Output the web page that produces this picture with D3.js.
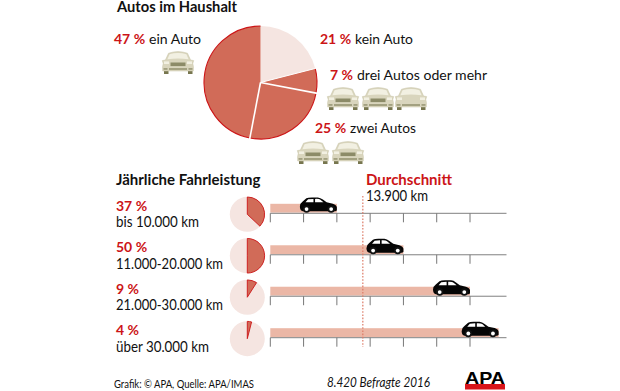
<!DOCTYPE html>
<html><head><meta charset="utf-8">
<style>html,body{margin:0;padding:0;background:#fff}svg{display:block}text{font-family:Lato,"Open Sans",sans-serif}</style>
<script src="https://cdn.jsdelivr.net/npm/d3@7"></script></head>
<body><svg id="c" width="620" height="391"></svg>
<script>
const householdLabels = ["kein Auto","drei Autos oder mehr","zwei Autos","ein Auto"];
const householdValues = [21,7,25,47];
const rangeLabels = ["bis 10.000 km","11.000-20.000 km","21.000-30.000 km","über 30.000 km"];
const rangeShares = [37,50,9,4];
const rangeKm = [10000,20000,30000,34300];
const kmTicks = [0,5000,10000,15000,20000,25000,30000];
const averageKm = 13900;

const svg = d3.select("#c");
const RED="#cc1517", FILL="#d16b58", PALE="#f5e5e1", BAR="#ebb7a6", BEIGE="#d9d5bd", DARKB="#8c8b68";

function txt(x,y,s,size,o={}){
  const t=svg.append("text").attr("x",x).attr("y",y).attr("font-size",size).text(s)
    .attr("fill",o.fill||"#111").attr("font-weight",o.w||400);
  if(o.style) t.attr("font-style",o.style);
  if(o.len) t.attr("textLength",o.len).attr("lengthAdjust","spacingAndGlyphs");
  return t;
}
const pct=(x,y,v)=>txt(x,y,v+" %",14,{fill:RED,w:700});

// main pie
const pie=d3.pie().sort(null).value(d=>d);
const arc=d3.arc().innerRadius(0).outerRadius(56.5);
const main=svg.append("g").attr("transform","translate(260.5,82.5)");
main.selectAll("path").data(pie(householdValues)).join("path")
  .attr("d",arc)
  .attr("fill",(d,i)=>i===0?PALE:FILL);
main.selectAll("path.o").data(pie(householdValues).slice(1)).join("path")
  .attr("class","o").attr("fill","none").attr("stroke",RED).attr("stroke-width",1.1)
  .attr("d",d=>d3.arc().innerRadius(56.5).outerRadius(56.5)(d));
const sep=d3.scaleLinear().domain([0,100]).range([0,2*Math.PI]);
d3.cumsum(householdValues).slice(0,3).forEach((v,i)=>{
  const a=sep(v);
  main.append("line").attr("x1",0).attr("y1",0)
    .attr("x2",Math.sin(a)*58).attr("y2",-Math.cos(a)*58)
    .attr("stroke","#fff").attr("stroke-width",i===0?1:1.6);
});

// front-view car
function frontCar(x,y,round){
  const g=svg.append("g").attr("transform",`translate(${x},${y})`);
  [[2,4.5],[26,4.5]].forEach(w=>g.append("rect").attr("x",w[0]).attr("y",19).attr("width",w[1]).attr("height",4).attr("fill","#77764f"));
  g.append("path").attr("fill",BEIGE).attr("stroke","#c9c5a8").attr("stroke-width",.5)
    .attr("d","M1.2 12.5 L0.3 9.6 L3.4 9 L6.5 2.2 Q16 -1 25.5 2.2 L28.6 9 L31.7 9.6 L30.8 12.5 Q31.8 15 31.3 20 L0.7 20 Q0.2 15 1.2 12.5Z");
  g.append("path").attr("fill","#f2f0e2").attr("d","M7.6 3.2 Q16 0.8 24.4 3.2 L26.6 8.2 Q16 6.8 5.4 8.2Z");
  g.append("rect").attr("x",2).attr("y",10.4).attr("width",5).attr("height",2.6).attr("fill","#f2f0e2");
  g.append("rect").attr("x",25).attr("y",10.4).attr("width",5).attr("height",2.6).attr("fill","#f2f0e2");
  if(!round) g.append("rect").attr("x",8.5).attr("y",11.5).attr("width",15).attr("height",3.6).attr("fill",DARKB);
  g.append("rect").attr("x",7).attr("y",17.3).attr("width",18).attr("height",1.4).attr("fill",DARKB);
  g.append("rect").attr("x",1.5).attr("y",17.3).attr("width",4).attr("height",1.3).attr("fill",DARKB);
  g.append("rect").attr("x",26.5).attr("y",17.3).attr("width",4).attr("height",1.3).attr("fill",DARKB);
}
frontCar(162,51);
frontCar(327,87);frontCar(362,87);frontCar(395,87,true);
frontCar(297,141);frontCar(332,141);

// side-view car: right end sits on the end of the bar
function sideCar(xr,yAxis){
  const g=svg.append("g").attr("transform",`translate(${xr-37},${yAxis-16})`);
  g.append("path").attr("fill","#050505")
    .attr("d","M0 9.5 Q0.2 5.8 2.8 4.2 L6.5 1 Q8 0.2 12 0.1 L18 0.1 Q20.5 0.3 23 2.2 L26.8 5 L33 6.4 Q36.6 7.5 37 10 L37 13 Q36.5 14 35 14 L3 14 Q0.2 13.5 0 9.5Z");
  g.append("path").attr("fill","#fff").attr("d","M8.2 2 L13.6 1.6 L13.6 5 L5.6 5Z M15.2 1.6 Q19.4 1.4 20.6 2.4 L23.6 5 L15.2 5Z");
  [6.7,31.3].forEach(cx=>{
    g.append("circle").attr("cx",cx).attr("cy",11.8).attr("r",3.7).attr("fill","#111");
    g.append("circle").attr("cx",cx).attr("cy",11.8).attr("r",1.9).attr("fill","#fff");
  });
}

// lower chart
const x=d3.scaleLinear().domain([0,30000]).range([270.3,470]);
const rowY=d3.scalePoint().domain(d3.range(4)).range([213.3,337.7]);
const sArc=d3.arc().innerRadius(0).outerRadius(17.3);
const labelLen=[83,107,107,93];
rangeKm.forEach((km,i)=>{
  const y=rowY(i);
  svg.append("rect").attr("x",x(0)).attr("y",y-9.5).attr("width",x(km)-x(0)).attr("height",8.8).attr("fill",BAR);
  svg.append("line").attr("x1",x(0)).attr("x2",506.5).attr("y1",y).attr("y2",y).attr("stroke","#808080").attr("stroke-width",1);
  kmTicks.forEach(t=>svg.append("line").attr("x1",x(t)).attr("x2",x(t)).attr("y1",y).attr("y2",y+9).attr("stroke","#777").attr("stroke-width",1));
  sideCar(x(km),y);
  const g=svg.append("g").attr("transform",`translate(247.3,${y+1})`);
  g.append("circle").attr("r",17.5).attr("fill",PALE);
  g.append("path").attr("d",sArc({startAngle:0,endAngle:sep(rangeShares[i])})).attr("fill",FILL).attr("stroke",RED).attr("stroke-width",.9);
  pct(116,y-2.5,rangeShares[i]);
  txt(116,y+14,rangeLabels[i],14.5,{len:labelLen[i]});
});
svg.append("line").attr("x1",x(averageKm)).attr("x2",x(averageKm)).attr("y1",196).attr("y2",347)
  .attr("stroke","#dd7a66").attr("stroke-width",1.2).attr("stroke-dasharray","1.6 1.6");

// text
txt(117,12,"Autos im Haushalt",14.7,{w:700});
pct(114,43.5,householdValues[3]); txt(149,43.5,householdLabels[3],14,{len:52});
pct(320,43.5,householdValues[0]); txt(355,43.5,householdLabels[0],14,{len:58});
pct(330,79.5,householdValues[1]); txt(357,79.5,householdLabels[1],14,{len:130});
pct(315,133,householdValues[2]);  txt(350,133,householdLabels[2],14,{len:66});
txt(116,185,"Jährliche Fahrleistung",15,{w:700});
txt(366,184.5,"Durchschnitt",15,{w:700,fill:RED});
txt(366,201,d3.format(",")(averageKm).replace(",",".")+" km",14.5,{len:62});
txt(114,387.5,"Grafik: © APA, Quelle: APA/IMAS",11,{len:140});
txt(327,387,"8.420 Befragte 2016",12.5,{style:"italic",len:103});

// logo
svg.append("rect").attr("x",465).attr("y",384).attr("width",40).attr("height",5.5).attr("fill","#d8141a");
svg.append("text").attr("x",465).attr("y",384).attr("font-size",16.5).attr("font-weight",700)
  .style("font-family","'Liberation Sans',sans-serif").attr("fill","#000").attr("textLength",40).attr("lengthAdjust","spacingAndGlyphs").text("APA");
</script></body></html>
